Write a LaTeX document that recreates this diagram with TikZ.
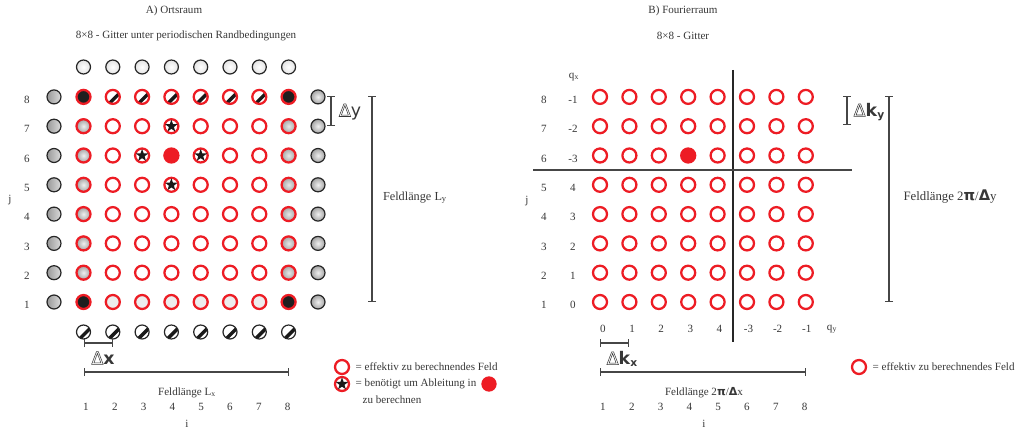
\documentclass[tikz,border=0pt]{standalone}
\usepackage{fontspec}
\setmainfont{Liberation Serif}
\newfontfamily\symfont{DejaVu Sans}
\usetikzlibrary{shapes.geometric,arrows.meta}
\definecolor{mred}{RGB}{237,28,36}
\definecolor{txt}{RGB}{55,55,55}
\definecolor{ln}{RGB}{70,70,70}
% outlined glyph (PDF text render mode 1)
\newcommand{\outl}[1]{\special{pdf:literal direct 1 Tr 0.4 w}#1\special{pdf:literal direct 0 Tr}}
\newcommand{\dlbl}[1]{{\symfont\fontsize{13}{13}\selectfont\outl{Δ}#1}}
\tikzset{
  cell/.style={circle, minimum size=10.5pt, inner sep=0pt},
  eff/.style={cell, draw=mred, line width=1.7pt, fill=white},
  ghost/.style={cell, draw=black!85, line width=0.9pt},
  dark/.style={fill=black!88},
  pale/.style={fill=gray!14},
  glossy/.style={shading=radial, inner color=gray!12, outer color=gray!72},
  sideshade/.style={left color=gray!80, right color=gray!28},
  % diagonal band from lower left to upper right, shifted towards lower right
  hatch/.style={path picture={
      \fill[black!90]
        ([shift={(-5.44pt,-5.87pt)}]path picture bounding box.center) --
        ([shift={(5.87pt,5.44pt)}]path picture bounding box.center) --
        ([shift={(7.71pt,3.61pt)}]path picture bounding box.center) --
        ([shift={(-3.61pt,-7.71pt)}]path picture bounding box.center) -- cycle;}},
  starmark/.style={star, star points=5, star point ratio=2.45, fill=black!90,
      inner sep=0pt, minimum size=9.8pt},
  bar/.style={draw=ln, line width=0.8pt, {Bar[width=6pt]}-{Bar[width=6pt]}},
  axisline/.style={draw=black!85, line width=0.8pt},
  % individual cells with a filled marker
  L46/.style={fill=mred},
  R46/.style={fill=mred},
}
\begin{document}
\begin{tikzpicture}[x=0.75pt, y=-0.75pt, text=txt,
    font=\fontsize{8.3}{10}\selectfont]
\useasboundingbox (0,0) rectangle (1020,428);

% ---------------- A) Ortsraum ----------------
\node (titleA) at (174,11) {A) Ortsraum};
\node (subA) at (186,36) {8×8 - Gitter unter periodischen Randbedingungen};

% interior cells
\foreach \i in {2,...,7}
  \foreach \j in {2,...,7}
    \node[eff, L\i\j/.try] (L-\i-\j) at ({83.5+(\i-1)*29.3},{302-(\j-1)*29.3}) {};
% top and bottom rows of the lattice
\foreach \i in {2,...,7} {
  \node[eff, hatch] (L-\i-8) at ({83.5+(\i-1)*29.3},{302-7*29.3}) {};
  \node[eff, pale] (L-\i-1) at ({83.5+(\i-1)*29.3},302) {};
}
% left and right columns of the lattice
\foreach \j in {2,...,7} {
  \node[eff, glossy] (L-1-\j) at (83.5,{302-(\j-1)*29.3}) {};
  \node[eff, shading=radial, inner color=gray!18, outer color=gray!70] (L-8-\j) at ({83.5+7*29.3},{302-(\j-1)*29.3}) {};
}
% corners
\node[eff, dark] (L-1-1) at (83.5,302) {};
\node[eff, dark] (L-8-1) at ({83.5+7*29.3},302) {};
\node[eff, dark] (L-1-8) at (83.5,{302-7*29.3}) {};
\node[eff, dark] (L-8-8) at ({83.5+7*29.3},{302-7*29.3}) {};

% periodic images outside the lattice
\foreach \i in {1,...,8} {
  \node[ghost, shading=radial, inner color=white, outer color=gray!22] (Lt-\i) at ({83.5+(\i-1)*29.3},67) {};
  \node[ghost, fill=white, hatch] (Lb-\i) at ({83.5+(\i-1)*29.3},332) {};
}
\foreach \j in {1,...,8} {
  \node[ghost, sideshade] (Ll-\j) at (54,{302-(\j-1)*29.3}) {};
  \node[ghost, glossy] (Lr-\j) at (318,{302-(\j-1)*29.3}) {};
}

% neighbours for the derivative
\foreach \c in {4-7,3-6,5-6,4-5}
  \node[starmark] (st-\c) at (L-\c) {};

% axis labels
\foreach \j in {1,...,8}
  \node (lj-\j) at (27,{305-(\j-1)*29.3}) {\j};
\foreach \i in {1,...,8}
  \node (li-\i) at ({86+(\i-1)*28.8},407) {\i};
\node (jA) at (10,200) {j};
\node (iA) at (187,424) {i};

% lattice spacing and field length
\coordinate (dxa) at (83.5,343);
\coordinate (dxb) at (112.8,343);
\draw[bar] (dxa) -- (dxb);
\node (dxl) at (103,358) {\dlbl{\textbf{x}}};
\coordinate (lxa) at (83.5,372);
\coordinate (lxb) at (288.6,372);
\draw[bar] (lxa) -- (lxb);
\node (lxt) at (187,393) {Feldlänge L\textsubscript{x}};

\coordinate (dya) at (331,96);
\coordinate (dyb) at (331,126);
\draw[bar] (dya) -- (dyb);
\node (dyl) at (350,112) {\dlbl{y}};
\coordinate (lya) at (372,96);
\coordinate (lyb) at (372,302);
\draw[bar] (lya) -- (lyb);
\node[font=\fontsize{9.2}{11}\selectfont] (lyt) at (415,198) {Feldlänge L\textsubscript{y}};

% legend
\node[eff] (legA1) at (342,367) {};
\node[anchor=west] (legA1t) at (351,367) {= effektiv zu berechnendes Feld};
\node[eff] (legA2) at (342,384) {};
\node[starmark] (legA2s) at (legA2) {};
\node[anchor=west] (legA2t) at (351,384) {= benötigt um Ableitung in};
\node[cell, fill=mred, minimum size=11.5pt] (legA2d) at (489,384) {};
\node[anchor=west] (legA3t) at (358,400) {zu berechnen};

% ---------------- B) Fourierraum ----------------
\node (titleB) at (683,11) {B) Fourierraum};
\node (subB) at (683,36) {8×8 - Gitter};

\foreach \i in {1,...,8}
  \foreach \j in {1,...,8}
    \node[eff, R\i\j/.try] (R-\i-\j) at ({600+(\i-1)*29.4},{302-(\j-1)*29.3}) {};

% quadrant lines
\coordinate (vtop) at (733,70);
\coordinate (vbot) at (733,342);
\draw[axisline] (vtop) -- (vbot);
\coordinate (hl) at (533,170);
\coordinate (hr) at (852,170);
\draw[axisline, draw=ln] (hl) -- (hr);

% labels
\foreach \j/\q in {1/0,2/1,3/2,4/3,5/4,6/-3,7/-2,8/-1} {
  \node (rj-\j) at (544,{305-(\j-1)*29.3}) {\j};
  \node (rq-\j) at (573,{305-(\j-1)*29.3}) {\q};
}
\node (qx) at (574,77) {q\textsubscript{x}};
\node (jB) at (527,201) {j};
\foreach \i/\q in {1/0,2/1,3/2,4/3,5/4,6/-3,7/-2,8/-1}
  \node (rc-\i) at ({603+(\i-1)*29.1},329) {\q};
\node (qy) at (832,329) {q\textsubscript{y}};
\foreach \i in {1,...,8}
  \node (ri-\i) at ({603+(\i-1)*28.8},407) {\i};
\node (iB) at (704,424) {i};

\coordinate (dkxa) at (600,343);
\coordinate (dkxb) at (629.4,343);
\draw[bar] (dkxa) -- (dkxb);
\node (dkxl) at (622,359) {\dlbl{\textbf{k}\raisebox{-1.5pt}{\fontsize{8}{8}\selectfont\textbf{x}}}};
\coordinate (lkxa) at (600,372);
\coordinate (lkxb) at (805.8,372);
\draw[bar] (lkxa) -- (lkxb);
\node (lkxt) at (704,393) {Feldlänge 2{\symfont\bfseries π}/{\symfont\bfseries Δ}x};

\coordinate (dkya) at (847,96);
\coordinate (dkyb) at (847,125);
\draw[bar] (dkya) -- (dkyb);
\node (dkyl) at (869,112) {\dlbl{\textbf{k}\raisebox{-1.5pt}{\fontsize{8}{8}\selectfont\textbf{y}}}};
\coordinate (lkya) at (889,96);
\coordinate (lkyb) at (889,302);
\draw[bar] (lkya) -- (lkyb);
\node[font=\fontsize{9.6}{11}\selectfont] (lkyt) at (950,197)
  {Feldlänge 2{\symfont\bfseries\fontsize{11}{11}\selectfont π}/{\symfont\bfseries\fontsize{11}{11}\selectfont Δ}y};

\node[eff] (legB) at (859,367) {};
\node[anchor=west] (legBt) at (868,367) {= effektiv zu berechnendes Feld};
\end{tikzpicture}
\end{document}
